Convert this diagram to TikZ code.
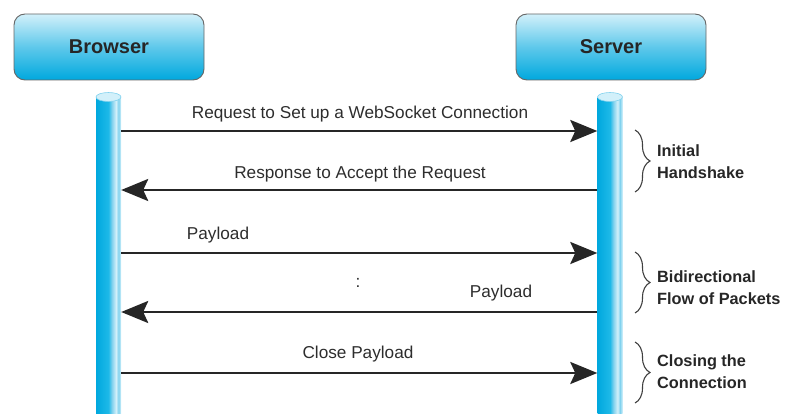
\documentclass[tikz,border=0pt]{standalone}
\usepackage{fontspec}
\setmainfont{Liberation Sans}
\usetikzlibrary{arrows.meta,decorations.pathreplacing,shapes.geometric}
\definecolor{cyanD}{RGB}{0,168,222}
\definecolor{cyanM}{RGB}{30,185,232}
\definecolor{cyanL}{RGB}{210,240,250}
\definecolor{cyanP}{RGB}{130,210,238}
\definecolor{txt}{RGB}{45,45,45}
\pgfdeclarehorizontalshading{lifeshade}{100bp}{color(0bp)=(cyanD); color(25bp)=(cyanD); color(50bp)=(cyanM); color(57bp)=(cyanP); color(65bp)=(cyanL); color(70bp)=(cyanP); color(75bp)=(cyanL); color(100bp)=(cyanL)}
\begin{document}
\begin{tikzpicture}[x=1pt,y=-1pt,
  box/.style={draw=black!60,line width=0.9pt,rounded corners=11pt,
    top color=cyanL,bottom color=cyanD,middle color=cyanD!55!cyanL,
    minimum width=190pt,minimum height=66pt,inner sep=0pt,
    font=\bfseries\fontsize{20}{24}\selectfont,text=black!85},
  life/.style={shading=lifeshade,minimum width=25pt,minimum height=330pt,
    inner sep=0pt,anchor=north},
  lifecap/.style={fill=cyanL,draw=cyanP,line width=0.6pt,ellipse,
    minimum width=25pt,minimum height=9pt,inner sep=0pt},
  msg/.style={line width=2.8pt,draw=black!85,
    -{Stealth[length=27pt,width=22pt,inset=5pt]}},
  lbl/.style={font=\fontsize{17.2}{20}\selectfont,text=txt,inner sep=0pt},
  brc/.style={decorate,decoration={brace,amplitude=15pt},line width=1.1pt,draw=black!75},
  note/.style={font=\bfseries\fontsize{16.3}{22}\selectfont,text=black!85,
    align=left,anchor=west,inner sep=0pt}]
\useasboundingbox (0,0) rectangle (787,414);
% headers
\node[box] (browser) at (109,47) {Browser};
\node[box] (server) at (611,47) {Server};
% lifelines
\node[life] (bl) at (108.5,97) {};
\node[life] (sl) at (610,97) {};
\node[lifecap] (blc) at (bl.north) {};
\node[lifecap] (slc) at (sl.north) {};
% message heights
\coordinate (m1) at (0,131);
\coordinate (m2) at (0,190);
\coordinate (m3) at (0,253);
\coordinate (m4) at (0,312);
\coordinate (m5) at (0,373);
\draw[msg] (bl.east |- m1) -- (sl.west |- m1);
\draw[msg] (sl.west |- m2) -- (bl.east |- m2);
\draw[msg] (bl.east |- m3) -- (sl.west |- m3);
\draw[msg] (sl.west |- m4) -- (bl.east |- m4);
\draw[msg] (bl.east |- m5) -- (sl.west |- m5);
% labels
\node[lbl] (t1) at (360,114) {Request to Set up a WebSocket Connection};
\node[lbl] (t2) at (360,174) {Response to Accept the Request};
\node[lbl] (t3) at (218,235) {Payload};
\node[lbl] (t4) at (358,283) {:};
\node[lbl] (t5) at (501,293) {Payload};
\node[lbl] (t6) at (358,354) {Close Payload};
% braces
\coordinate (b1a) at (635,130); \coordinate (b1b) at (635,192);
\coordinate (b2a) at (635,252); \coordinate (b2b) at (635,313);
\coordinate (b3a) at (635,342); \coordinate (b3b) at (635,403);
\draw[brc] (b1a) -- (b1b);
\draw[brc] (b2a) -- (b2b);
\draw[brc] (b3a) -- (b3b);
\node[note] (n1) at (657,162) {Initial\\Handshake};
\node[note] (n2) at (657,288) {Bidirectional\\Flow of Packets};
\node[note] (n3) at (657,372) {Closing the\\Connection};
\end{tikzpicture}
\end{document}
